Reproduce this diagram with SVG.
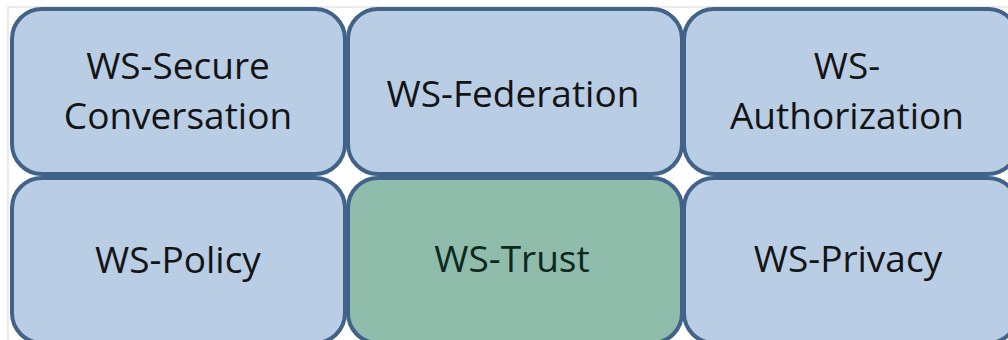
<svg xmlns="http://www.w3.org/2000/svg" width="1008" height="340" viewBox="0 0 1008 340">
<style>
.box{fill:#b9cde5;stroke:#41638a;stroke-width:4}
.green{fill:#8fbcab;stroke:#41638a;stroke-width:4}
.t{font-family:"Open Sans","Liberation Sans",sans-serif;font-size:37px;fill:#141414;text-anchor:middle}
.tg{fill:#0d2a1e}
</style>
<rect x="0" y="0" width="1008" height="340" fill="#ffffff"/>
<g id="grid" fill="none" stroke="#d8d8d8" stroke-width="1">
<rect x="8" y="7" width="1010" height="340"/>
</g>
<g id="n1"><rect class="box" x="12" y="9" width="333" height="165" rx="30"/><text class="t" x="178" y="79">WS-Secure</text><text class="t" x="178" y="129">Conversation</text></g>
<g id="n2"><rect class="box" x="348" y="9" width="334" height="165" rx="30"/><text class="t" x="513" y="107">WS-Federation</text></g>
<g id="n3"><rect class="box" x="684" y="9" width="334" height="165" rx="30"/><text class="t" x="847" y="79">WS-</text><text class="t" x="847" y="129">Authorization</text></g>
<g id="n4"><rect class="box" x="12" y="178" width="333" height="165" rx="30"/><text class="t" x="178" y="273">WS-Policy</text></g>
<g id="n5"><rect class="green" x="348" y="178" width="334" height="165" rx="30"/><text class="t tg" x="512" y="272">WS-Trust</text></g>
<g id="n6"><rect class="box" x="684" y="178" width="334" height="165" rx="30"/><text class="t" x="848" y="272">WS-Privacy</text></g>
<g id="connectors"></g>
</svg>
